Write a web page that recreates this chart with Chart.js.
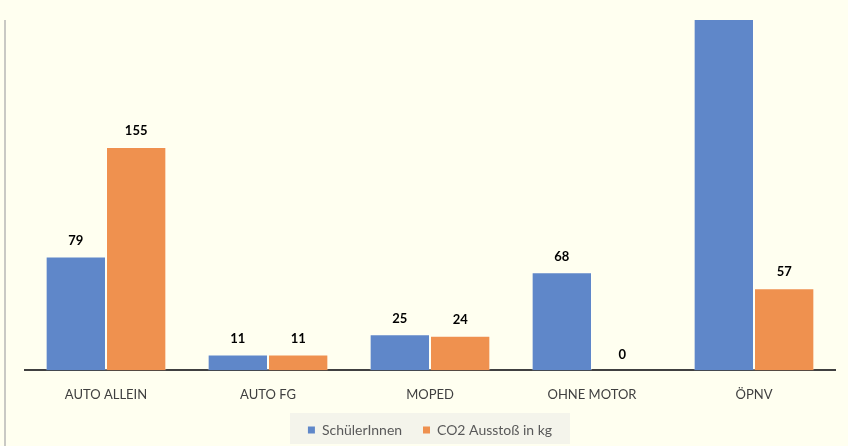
<!DOCTYPE html>
<html><head><meta charset="utf-8">
<script src="https://cdn.jsdelivr.net/npm/chart.js@4/dist/chart.umd.min.js"></script>
<style>html,body{margin:0;padding:0;background:#FFFFF0;}#wrap{width:848px;height:446px;}</style>
</head><body><div id="wrap"><canvas id="c" width="848" height="446"></canvas></div>
<script>
const categories = ["AUTO ALLEIN", "AUTO FG", "MOPED", "OHNE MOTOR", "ÖPNV"];
const schuelerInnen = [79, 11, 25, 68, 300];
const co2Ausstoss = [155, 11, 24, 0, 57];
const seriesNames = ["SchülerInnen", "CO2 Ausstoß in kg"];
const yMax = 243;

const FONT = "Lato, 'Open Sans', sans-serif";

const bgPlugin = {
  id: 'bg',
  beforeDraw(chart) {
    const ctx = chart.ctx;
    ctx.save();
    ctx.fillStyle = '#FFFFF0';
    ctx.fillRect(0, 0, chart.width, chart.height);
    ctx.strokeStyle = '#c9c9c4';
    ctx.lineWidth = 2;
    ctx.beginPath(); ctx.moveTo(5, 20); ctx.lineTo(5, chart.height); ctx.stroke();
    ctx.fillStyle = '#F4F4EB';
    ctx.fillRect(290, 413, 280, 31);
    ctx.restore();
  }
};

const labelPlugin = {
  id: 'vals',
  afterDatasetsDraw(chart) {
    const ctx = chart.ctx;
    const yScale = chart.scales.y;
    ctx.save();
    ctx.font = "bold 13px " + FONT;
    ctx.fillStyle = '#000';
    ctx.textAlign = 'center';
    ctx.textBaseline = 'middle';
    chart.data.datasets.forEach((ds, di) => {
      const meta = chart.getDatasetMeta(di);
      meta.data.forEach((bar, i) => {
        const v = ds.data[i];
        if (v > yScale.max) return;
        ctx.fillText(String(v), bar.x, bar.y - 16);
      });
    });
    ctx.restore();
  }
};

new Chart(document.getElementById('c'), {
  type: 'bar',
  data: {
    labels: categories,
    datasets: [
      { label: seriesNames[0], data: schuelerInnen, backgroundColor: '#5F87C9', borderColor: 'rgba(255,255,255,0.35)', borderWidth: 1 },
      { label: seriesNames[1], data: co2Ausstoss, backgroundColor: '#EF914F', borderColor: 'rgba(255,255,255,0.35)', borderWidth: 1 }
    ]
  },
  options: {
    responsive: false,
    animation: false,
    layout: { padding: { left: 25, right: 13, top: 20, bottom: -1 } },
    datasets: { bar: { categoryPercentage: 0.745, barPercentage: 1.0 } },
    scales: {
      x: {
        grid: { display: false, drawTicks: false },
        border: { display: true, color: '#404040', width: 2 },
        ticks: { color: '#404040', font: { family: FONT, size: 13 }, padding: 17 }
      },
      y: { display: false, min: 0, max: yMax }
    },
    plugins: {
      legend: {
        position: 'bottom',
        labels: {
          boxWidth: 7, boxHeight: 7, color: '#595959', font: { family: FONT, size: 14 }, padding: 3,
          generateLabels(chart) {
            const items = Chart.defaults.plugins.legend.labels.generateLabels(chart);
            items.forEach((it, i) => { it.lineWidth = 0; if (i === 0) it.text = it.text + '     '; });
            return items;
          }
        }
      },
      tooltip: { enabled: false }
    }
  },
  plugins: [bgPlugin, labelPlugin]
});
</script></body></html>
